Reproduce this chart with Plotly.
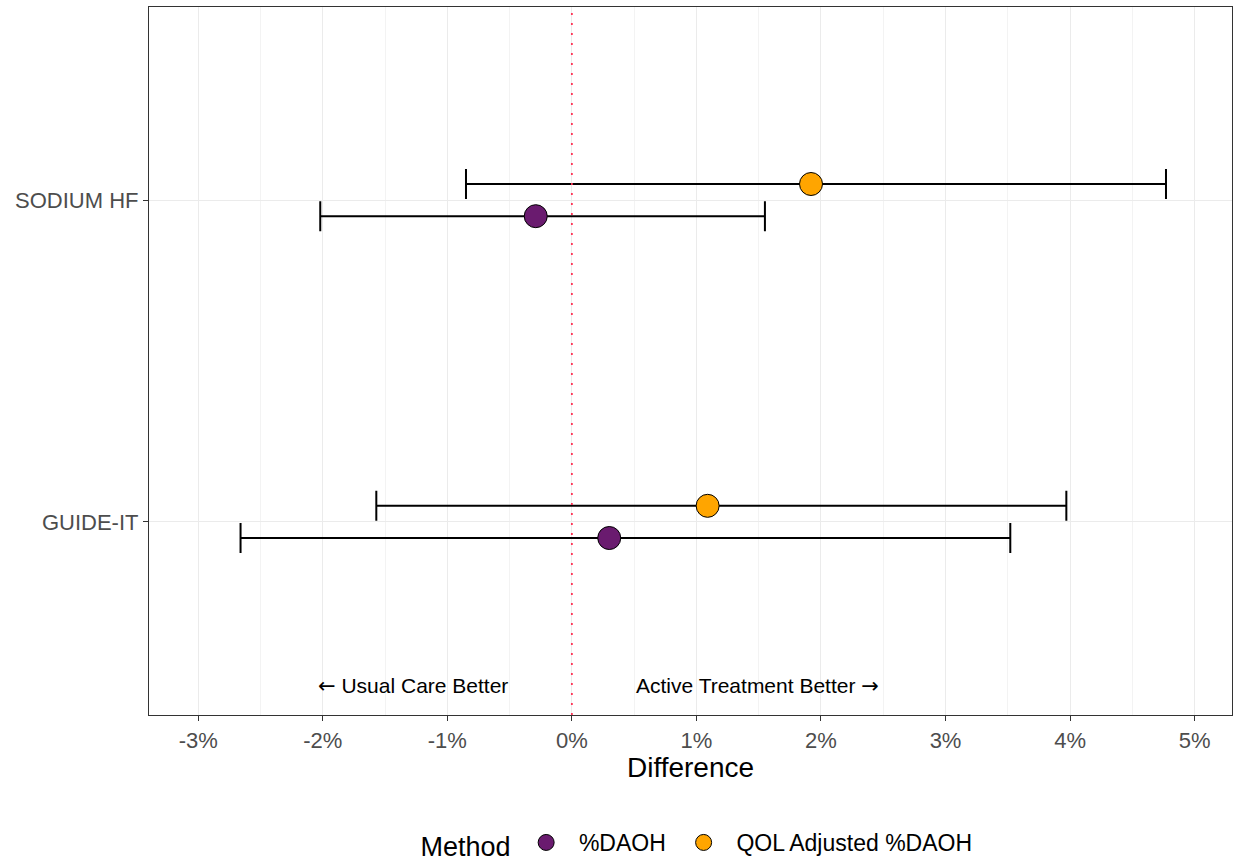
import plotly.graph_objects as go

studies = ["GUIDE-IT", "SODIUM HF"]
study_pos = [1, 2]
methods = ["%DAOH", "QOL Adjusted %DAOH"]
colors = ["#6A1B6F", "#FFA500"]

# estimates (%), lower and upper limits
daoh_est = [0.30, -0.29]
daoh_lo = [-2.66, -2.02]
daoh_hi = [3.52, 1.55]
qol_est = [1.09, 1.92]
qol_lo = [-1.57, -0.85]
qol_hi = [3.97, 4.77]

dodge = 0.05
x_ticks = [-3, -2, -1, 0, 1, 2, 3, 4, 5]

NB = "\u00a0"
fig = go.Figure()
series = [(daoh_est, daoh_lo, daoh_hi, -dodge), (qol_est, qol_lo, qol_hi, dodge)]
for (est, lo, hi, off), name, col in zip(series, methods, colors):
    fig.add_trace(go.Scatter(
        x=est, y=[p + off for p in study_pos], mode="markers",
        name=NB * 2 + name + NB * 2,
        marker=dict(size=23, color=col, line=dict(color="black", width=1)),
        error_x=dict(type="data", symmetric=False,
                     array=[h - e for h, e in zip(hi, est)],
                     arrayminus=[e - l for e, l in zip(est, lo)],
                     color="black", thickness=2, width=15),
    ))

fig.add_shape(type="line", x0=0, x1=0, y0=0, y1=1, xref="x", yref="paper",
              line=dict(color="#FF3355", width=1.8, dash="2px,8px"), layer="above")

arrow_style = "font-family:'DejaVu Sans'"
fig.add_annotation(x=-0.5, y=0.49,
                   text=f"<span style=\"{arrow_style}\">←</span> Usual Care Better",
                   showarrow=False, xanchor="right", yanchor="middle",
                   font=dict(size=21, color="black"))
fig.add_annotation(x=0.5, y=0.49,
                   text=f"Active Treatment Better <span style=\"{arrow_style}\">→</span>",
                   showarrow=False, xanchor="left", yanchor="middle",
                   font=dict(size=21, color="black"))

fig.update_layout(
    width=1242, height=861,
    margin=dict(l=149, r=10, t=7, b=146),
    paper_bgcolor="white", plot_bgcolor="white",
    font=dict(family="Liberation Sans, Arial, sans-serif", color="black"),
    xaxis=dict(
        range=[-3.395, 5.30], tickvals=x_ticks, ticktext=[f"{v}%" for v in x_ticks],
        showgrid=True, gridcolor="#EBEBEB", gridwidth=1.2,
        minor=dict(tickvals=[v + 0.5 for v in range(-4, 6)], showgrid=True,
                   gridcolor="#F3F3F3", gridwidth=0.8, ticks=""),
        zeroline=False, showline=True, mirror=True, linecolor="#333333", linewidth=1.2,
        ticks="outside", ticklen=5, tickcolor="#333333", tickwidth=1.2,
        tickfont=dict(size=22, color="#4D4D4D"),
        title=dict(text="Difference", font=dict(size=28, color="black"), standoff=4),
    ),
    yaxis=dict(
        range=[0.4, 2.6], tickvals=study_pos, ticktext=studies,
        showgrid=True, gridcolor="#EBEBEB", gridwidth=1.2, zeroline=False,
        showline=True, mirror=True, linecolor="#333333", linewidth=1.2,
        ticks="outside", ticklen=5, tickcolor="#333333", tickwidth=1.2,
        tickfont=dict(size=22, color="#4D4D4D"),
    ),
    legend=dict(
        orientation="h", x=0.513, xanchor="center",
        yref="container", y=(861 - 844) / 861, yanchor="middle",
        title=dict(text="Method" + NB, font=dict(size=27, color="black")),
        font=dict(size=23, color="black"), itemsizing="trace",
    ),
)

fig.write_html("out.html")
